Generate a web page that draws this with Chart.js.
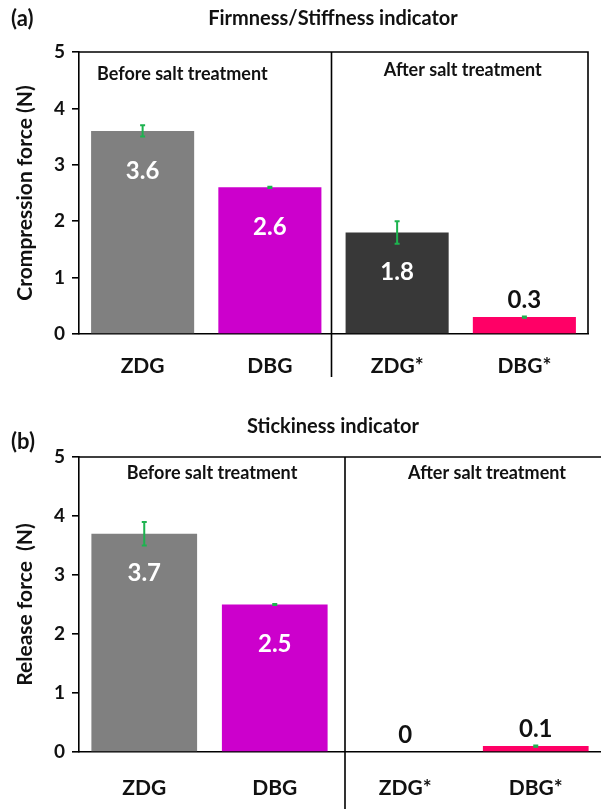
<!DOCTYPE html>
<html lang="en">
<head>
<meta charset="UTF-8">
<title>Firmness and stickiness indicators</title>
<script src="https://cdn.jsdelivr.net/npm/chart.js"></script>
<style>
  body { margin: 0; background: #fff; }
  canvas { display: block; }
</style>
</head>
<body>
<canvas id="firmChart" width="601" height="400"></canvas>
<canvas id="stickChart" width="601" height="409"></canvas>
<script>
// Data
const categories = ['ZDG', 'DBG', 'ZDG*', 'DBG*'];
const firmness = [3.6, 2.6, 1.8, 0.3];
const firmnessErr = [0.1, 0.01, 0.2, 0.01];
const stickiness = [3.7, 2.5, 0, 0.1];
const stickinessErr = [0.2, 0.01, 0, 0.01];
const firmLabels = ['3.6', '2.6', '1.8', '0.3'];
const stickLabels = ['3.7', '2.5', '0', '0.1'];
const barColors = ['#808080', '#cc00cc', '#383838', '#ff0066'];

const FONT = 'Lato, "Open Sans", sans-serif';

// draws error bars, value labels, frame, divider and panel texts
const panelDecor = {
  id: 'panelDecor',
  afterDatasetsDraw(chart, args, opts) {
    const ctx = chart.ctx;
    const area = chart.chartArea;
    const xs = chart.scales.x, ys = chart.scales.y;
    const data = chart.data.datasets[0].data;
    ctx.save();

    // error bars
    ctx.strokeStyle = '#1db34f';
    ctx.lineWidth = 2;
    data.forEach((v, i) => {
      const e = opts.errors[i];
      if (!e) return;
      const cx = xs.getPixelForValue(i);
      const y1 = ys.getPixelForValue(v + e);
      const y2 = ys.getPixelForValue(v - e);
      ctx.beginPath();
      ctx.moveTo(cx, y1); ctx.lineTo(cx, y2);
      ctx.moveTo(cx - 2.5, y1); ctx.lineTo(cx + 2.5, y1);
      ctx.moveTo(cx - 2.5, y2); ctx.lineTo(cx + 2.5, y2);
      ctx.stroke();
    });

    // value labels
    ctx.font = 'bold 24px ' + FONT;
    ctx.textAlign = 'center';
    ctx.textBaseline = 'middle';
    data.forEach((v, i) => {
      const cx = xs.getPixelForValue(i);
      const top = ys.getPixelForValue(v);
      if (v >= 1) {
        ctx.fillStyle = '#ffffff';
        ctx.fillText(opts.labels[i], cx, top + 40);
      } else {
        ctx.fillStyle = '#111111';
        ctx.fillText(opts.labels[i], cx, top - 17);
      }
    });

    // frame and divider
    ctx.strokeStyle = '#000';
    ctx.lineWidth = 1.6;
    ctx.beginPath();
    ctx.moveTo(area.left, area.top);
    ctx.lineTo(opts.frameRight ? area.right : chart.width, area.top);
    if (opts.frameRight) ctx.lineTo(area.right, area.bottom);
    const dx = (xs.getPixelForValue(1) + xs.getPixelForValue(2)) / 2 + opts.dividerShift;
    ctx.moveTo(dx, area.top);
    ctx.lineTo(dx, opts.dividerEnd);
    ctx.stroke();

    // texts
    ctx.fillStyle = '#111';
    ctx.textBaseline = 'middle';
    ctx.font = 'bold 20px ' + FONT;
    ctx.textAlign = 'center';
    ctx.fillText(opts.title, opts.titleX, opts.titleY);
    ctx.textAlign = 'left';
    ctx.font = 'bold 22px ' + FONT;
    ctx.fillText(opts.tag, 11, opts.tagY);
    ctx.font = 'bold 18px ' + FONT;
    if (opts.beforeLeftAlign) {
      ctx.textAlign = 'left';
      ctx.fillText('Before salt treatment', area.left + 18, area.top + 22);
    } else {
      ctx.textAlign = 'center';
      ctx.fillText('Before salt treatment', (area.left + dx) / 2, area.top + 16);
    }
    ctx.textAlign = 'center';
    const rightEnd = opts.frameRight ? area.right : chart.width;
    ctx.fillText('After salt treatment', (dx + rightEnd) / 2 + opts.afterShift, area.top + opts.afterY);
    ctx.restore();
  }
};

function makeChart(id, values, errors, labels, yTitle, cfg) {
  return new Chart(document.getElementById(id), {
    type: 'bar',
    data: {
      labels: categories,
      datasets: [{
        data: values,
        backgroundColor: barColors,
        barPercentage: 0.81,
        categoryPercentage: 1
      }]
    },
    options: {
      responsive: false,
      animation: false,
      layout: { padding: { top: cfg.top, right: cfg.right, left: 0, bottom: 0 } },
      plugins: {
        legend: { display: false },
        tooltip: { enabled: false },
        panelDecor: Object.assign({ errors: errors, labels: labels }, cfg.decor)
      },
      scales: {
        x: {
          afterFit: s => { s.height = cfg.xHeight; },
          grid: { display: false, drawTicks: false },
          border: { color: '#000', width: 1.6 },
          ticks: { color: '#111', padding: cfg.xPad, font: { family: FONT, size: 21, weight: 'bold' } }
        },
        y: {
          min: 0,
          max: 5,
          afterFit: s => { s.width = 79; },
          grid: { drawOnChartArea: false, tickLength: 7, color: '#000', lineWidth: 1.6 },
          border: { color: '#000', width: 1.6 },
          ticks: { stepSize: 1, color: '#111', padding: 7, font: { family: FONT, size: 19, weight: 'bold' } },
          title: {
            display: true,
            text: yTitle,
            color: '#111',
            padding: { top: 13, bottom: 0 },
            font: { family: FONT, size: 21, weight: 'bold' }
          }
        }
      }
    },
    plugins: [panelDecor]
  });
}

makeChart('firmChart', firmness, firmnessErr, firmLabels, 'Crompression force (N)', {
  top: 52, right: 13, xHeight: 66, xPad: 20,
  decor: {
    frameRight: true, dividerEnd: 377, dividerShift: -2,
    title: 'Firmness/Stiffness indicator', titleX: 333, titleY: 19,
    tag: '(a)', tagY: 19, beforeLeftAlign: true, afterShift: 3, afterY: 18
  }
});

makeChart('stickChart', stickiness, stickinessErr, stickLabels, 'Release force  (N)', {
  top: 57, right: 0, xHeight: 57, xPad: 24,
  decor: {
    frameRight: false, dividerEnd: 409, dividerShift: 5,
    title: 'Stickiness indicator', titleX: 333, titleY: 27,
    tag: '(b)', tagY: 42, beforeLeftAlign: false, afterShift: 14, afterY: 16
  }
});
</script>
</body>
</html>
